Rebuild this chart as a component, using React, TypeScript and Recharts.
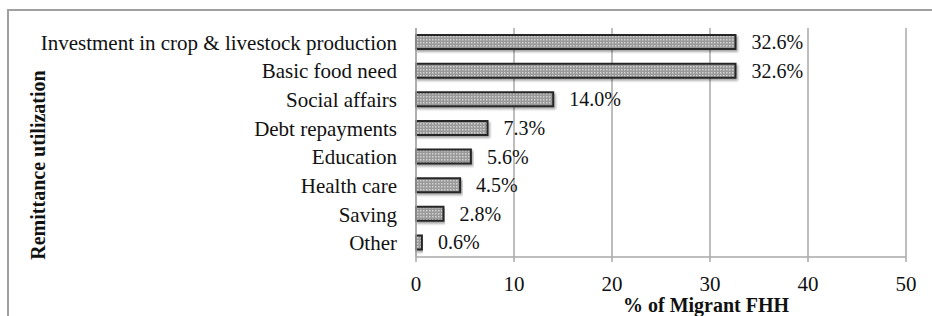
import React from "react";
import { BarChart, Bar, XAxis, YAxis, CartesianGrid, LabelList } from "recharts";

const categories = [
  "Investment in crop & livestock production",
  "Basic food need",
  "Social affairs",
  "Debt repayments",
  "Education",
  "Health care",
  "Saving",
  "Other",
];
const values = [32.6, 32.6, 14.0, 7.3, 5.6, 4.5, 2.8, 0.6];
const xTicks = [0, 10, 20, 30, 40, 50];
const xTitle = "% of Migrant FHH";
const yTitle = "Remittance utilization";

const data = categories.map((c, i) => ({ name: c, value: values[i] }));

const FONT = "'Liberation Serif', 'Times New Roman', serif";

const XLabel = () => (
  <text x={623} y={312} fontFamily={FONT} fontWeight="bold" fontSize={20} fill="#111" textAnchor="start">
    {xTitle}
  </text>
);

const YLabel = () => (
  <text
    x={45}
    y={165}
    transform="rotate(-90, 45, 165)"
    fontFamily={FONT}
    fontWeight="bold"
    fontSize={20}
    fill="#111"
    textAnchor="middle"
  >
    {yTitle}
  </text>
);

export default function App() {
  return (
    <div style={{ position: "absolute", left: 0, top: 0, width: 932, height: 316, overflow: "hidden", background: "#fff" }}>
      <div
        style={{
          position: "absolute",
          left: 7,
          top: 9,
          width: 1000,
          height: 400,
          borderTop: "2px solid #a0a0a0",
          borderLeft: "2px solid #a0a0a0",
        }}
      />
      <div style={{ position: "absolute", left: 0, top: 0 }}>
        <BarChart
          width={932}
          height={316}
          data={data}
          layout="vertical"
          margin={{ top: 28, right: 26, bottom: 29, left: 0 }}
          barSize={14}
        >
          <defs>
            <pattern id="dots" width="3" height="3" patternUnits="userSpaceOnUse">
              <rect width="3" height="3" fill="#999999" />
              <rect width="1.5" height="1.5" fill="#d2d2d2" />
            </pattern>
            <filter id="shadow" x="-5%" y="-30%" width="110%" height="180%">
              <feDropShadow dx="1.5" dy="2" stdDeviation="1.2" floodColor="#000" floodOpacity="0.35" />
            </filter>
          </defs>
          <CartesianGrid horizontal={false} stroke="#a8a8a8" strokeWidth={1.5} />
          <XAxis
            type="number"
            domain={[0, 50]}
            ticks={xTicks}
            interval={0}
            height={30}
            axisLine={{ stroke: "#a8a8a8", strokeWidth: 1.5 }}
            tickLine={{ stroke: "#a8a8a8", strokeWidth: 1.5 }}
            tickSize={5}
            tickMargin={14}
            tick={{ fontFamily: FONT, fontSize: 21, fill: "#111" }}
            label={<XLabel />}
          />
          <YAxis
            type="category"
            dataKey="name"
            width={416}
            axisLine={{ stroke: "#a8a8a8", strokeWidth: 1.5 }}
            tickLine={false}
            tickSize={6}
            tickMargin={13}
            interval={0}
            tick={{ fontFamily: FONT, fontSize: 21, fill: "#111" }}
            label={<YLabel />}
          />
          <Bar
            dataKey="value"
            fill="url(#dots)"
            stroke="#262626"
            strokeWidth={2}
            filter="url(#shadow)"
            isAnimationActive={false}
          >
            <LabelList
              dataKey="value"
              position="right"
              offset={16}
              formatter={(v: any) => `${Number(v).toFixed(1)}%`}
              style={{ fontFamily: FONT, fontSize: 20, fill: "#111" }}
            />
          </Bar>
        </BarChart>
      </div>
    </div>
  );
}
